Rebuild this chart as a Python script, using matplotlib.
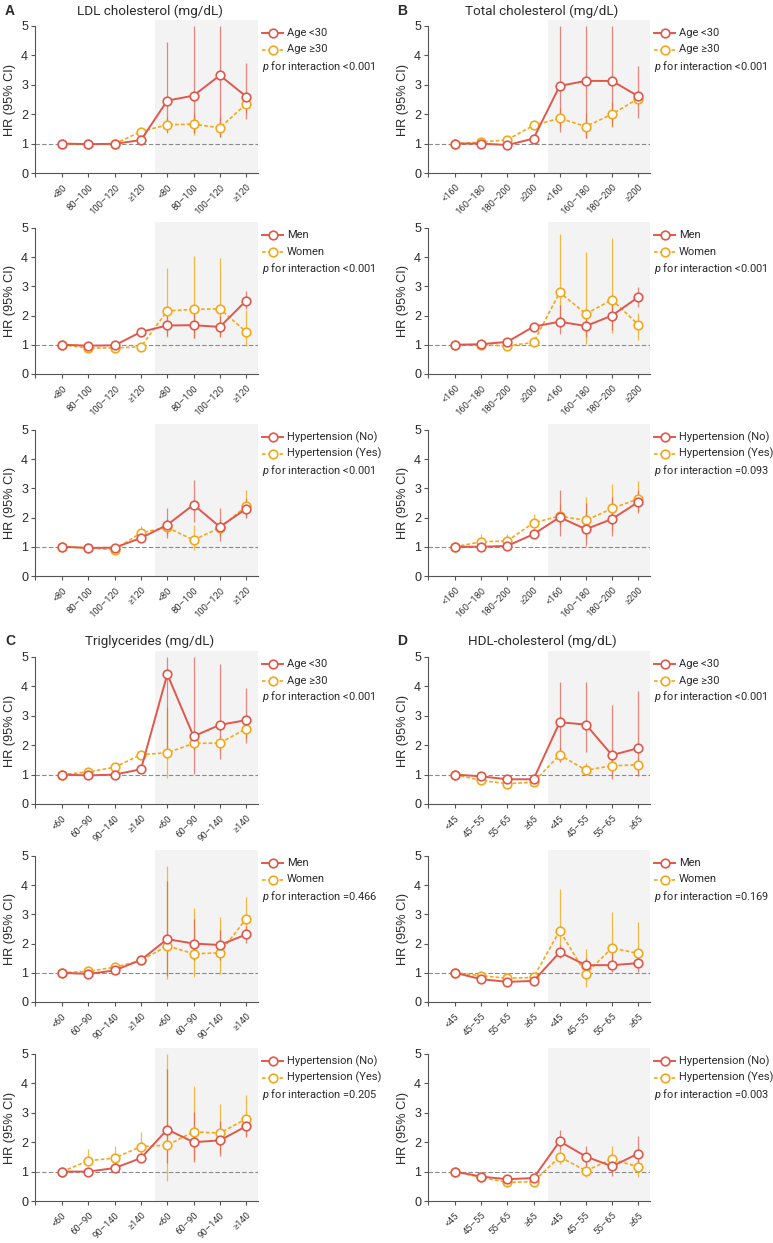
import numpy as np
import matplotlib
matplotlib.use("Agg")
import matplotlib.pyplot as plt

plt.rcParams['font.family'] = ['Roboto', 'DejaVu Sans']
plt.rcParams['mathtext.fontset'] = 'custom'
plt.rcParams['mathtext.rm'] = 'Roboto'
plt.rcParams['mathtext.it'] = 'Roboto:italic'

# ---- category labels --------------------------------------------------
ldl_cats = ['<80', '80–100', '100–120', '≥120'] * 2
tc_cats = ['<160', '160–180', '180–200', '≥200'] * 2
tg_cats = ['<60', '60–90', '90–140', '≥140'] * 2
hdl_cats = ['<45', '45–55', '55–65', '≥65'] * 2

# ---- A: LDL cholesterol -----------------------------------------------
ldl_age_a    = [1.00, 0.98, 0.99, 1.12, 2.46, 2.63, 3.32, 2.60]
ldl_age_a_lo = [1.00, 0.93, 0.93, 1.03, 1.37, 1.35, 1.24, 1.83]
ldl_age_a_hi = [1.00, 1.03, 1.05, 1.22, 4.46, 5.00, 5.00, 3.74]
ldl_age_b    = [1.00, 0.98, 0.99, 1.41, 1.64, 1.66, 1.54, 2.34]
ldl_age_b_lo = [1.00, 0.96, 0.97, 1.33, 1.42, 1.29, 1.24, 2.05]
ldl_age_b_hi = [1.00, 1.00, 1.02, 1.50, 1.90, 2.05, 1.90, 2.65]

ldl_sex_a    = [1.00, 0.97, 0.98, 1.44, 1.66, 1.67, 1.61, 2.51]
ldl_sex_a_lo = [1.00, 0.94, 0.95, 1.38, 1.31, 1.24, 1.25, 2.21]
ldl_sex_a_hi = [1.00, 1.01, 1.02, 1.50, 2.05, 2.10, 2.00, 2.85]
ldl_sex_b    = [1.00, 0.89, 0.89, 0.93, 2.16, 2.21, 2.23, 1.44]
ldl_sex_b_lo = [1.00, 0.85, 0.85, 0.88, 1.28, 1.22, 1.27, 0.96]
ldl_sex_b_hi = [1.00, 0.94, 0.94, 0.99, 3.62, 4.04, 3.96, 2.19]

ldl_htn_a    = [1.00, 0.96, 0.97, 1.30, 1.75, 2.44, 1.68, 2.30]
ldl_htn_a_lo = [1.00, 0.93, 0.93, 1.25, 1.31, 1.85, 1.20, 1.97]
ldl_htn_a_hi = [1.00, 0.99, 1.02, 1.36, 2.34, 3.27, 2.34, 2.65]
ldl_htn_b    = [1.00, 0.96, 0.90, 1.48, 1.66, 1.23, 1.65, 2.39]
ldl_htn_b_lo = [1.00, 0.92, 0.85, 1.30, 1.40, 0.89, 1.35, 2.02]
ldl_htn_b_hi = [1.00, 1.00, 0.96, 1.70, 1.95, 1.74, 1.95, 2.93]

# ---- B: total cholesterol ---------------------------------------------
tc_age_a    = [1.00, 1.00, 0.95, 1.17, 2.96, 3.13, 3.13, 2.61]
tc_age_a_lo = [1.00, 0.95, 0.90, 1.08, 1.39, 1.20, 1.60, 1.87]
tc_age_a_hi = [1.00, 1.05, 1.00, 1.26, 5.00, 5.00, 5.00, 3.62]
tc_age_b    = [1.00, 1.05, 1.13, 1.62, 1.86, 1.58, 2.00, 2.53]
tc_age_b_lo = [1.00, 1.01, 1.08, 1.55, 1.55, 1.20, 1.58, 2.30]
tc_age_b_hi = [1.00, 1.09, 1.18, 1.70, 2.20, 2.05, 2.40, 2.75]

tc_sex_a    = [1.00, 1.02, 1.10, 1.62, 1.79, 1.64, 2.00, 2.63]
tc_sex_a_lo = [1.00, 0.98, 1.05, 1.55, 1.37, 1.28, 1.50, 2.30]
tc_sex_a_hi = [1.00, 1.06, 1.16, 1.70, 2.36, 2.10, 2.64, 2.98]
tc_sex_b    = [1.00, 1.00, 0.96, 1.08, 2.79, 2.06, 2.54, 1.69]
tc_sex_b_lo = [1.00, 0.96, 0.91, 1.00, 1.60, 1.02, 1.39, 1.16]
tc_sex_b_hi = [1.00, 1.04, 1.01, 1.16, 4.79, 4.18, 4.66, 2.07]

tc_htn_a    = [1.00, 1.00, 1.03, 1.43, 2.01, 1.60, 1.95, 2.53]
tc_htn_a_lo = [1.00, 0.96, 0.98, 1.36, 1.37, 1.03, 1.37, 2.14]
tc_htn_a_hi = [1.00, 1.04, 1.08, 1.50, 2.93, 2.50, 2.70, 2.93]
tc_htn_b    = [1.00, 1.17, 1.20, 1.82, 2.05, 1.90, 2.31, 2.64]
tc_htn_b_lo = [1.00, 1.00, 1.00, 1.50, 1.70, 1.23, 1.57, 2.22]
tc_htn_b_hi = [1.00, 1.43, 1.43, 2.11, 2.45, 2.69, 3.16, 3.25]

# ---- C: triglycerides -------------------------------------------------
tg_age_a    = [1.00, 0.97, 1.00, 1.18, 4.41, 2.30, 2.69, 2.85]
tg_age_a_lo = [1.00, 0.92, 0.95, 1.10, 1.60, 1.01, 1.52, 2.09]
tg_age_a_hi = [1.00, 1.02, 1.05, 1.26, 5.00, 5.00, 4.77, 3.94]
tg_age_b    = [1.00, 1.09, 1.25, 1.68, 1.74, 2.06, 2.07, 2.56]
tg_age_b_lo = [1.00, 1.05, 1.20, 1.60, 0.90, 1.85, 1.85, 2.25]
tg_age_b_hi = [1.00, 1.13, 1.30, 1.76, 3.30, 2.30, 2.30, 2.90]

tg_sex_a    = [1.00, 0.96, 1.08, 1.44, 2.15, 2.00, 1.95, 2.31]
tg_sex_a_lo = [1.00, 0.92, 1.03, 1.38, 0.90, 1.44, 1.44, 2.03]
tg_sex_a_hi = [1.00, 1.00, 1.13, 1.50, 4.14, 2.85, 2.47, 2.60]
tg_sex_b    = [1.00, 1.05, 1.19, 1.42, 1.92, 1.65, 1.68, 2.85]
tg_sex_b_lo = [1.00, 0.98, 1.12, 1.33, 0.78, 0.85, 0.95, 2.35]
tg_sex_b_hi = [1.00, 1.12, 1.26, 1.52, 4.66, 3.23, 2.92, 3.58]

tg_htn_a    = [1.00, 1.00, 1.12, 1.46, 2.43, 2.00, 2.06, 2.54]
tg_htn_a_lo = [1.00, 0.96, 1.06, 1.38, 1.29, 1.33, 1.54, 2.18]
tg_htn_a_hi = [1.00, 1.04, 1.18, 1.54, 4.49, 3.03, 2.73, 2.90]
tg_htn_b    = [1.00, 1.37, 1.46, 1.85, 1.90, 2.35, 2.31, 2.79]
tg_htn_b_lo = [1.00, 1.18, 1.18, 1.46, 0.69, 1.40, 1.63, 2.20]
tg_htn_b_hi = [1.00, 1.77, 1.88, 2.34, 5.00, 3.90, 3.31, 3.59]

# ---- D: HDL-cholesterol -----------------------------------------------
hdl_age_a    = [1.00, 0.94, 0.84, 0.84, 2.78, 2.70, 1.66, 1.90]
hdl_age_a_lo = [1.00, 0.88, 0.78, 0.78, 1.44, 1.78, 0.84, 0.95]
hdl_age_a_hi = [1.00, 1.00, 0.90, 0.90, 4.15, 4.14, 3.35, 3.84]
hdl_age_b    = [1.00, 0.80, 0.69, 0.74, 1.67, 1.15, 1.30, 1.33]
hdl_age_b_lo = [1.00, 0.76, 0.65, 0.69, 1.45, 0.98, 1.10, 1.10]
hdl_age_b_hi = [1.00, 0.84, 0.73, 0.79, 1.95, 1.38, 1.52, 1.60]

hdl_sex_a    = [1.00, 0.78, 0.69, 0.72, 1.70, 1.26, 1.26, 1.33]
hdl_sex_a_lo = [1.00, 0.74, 0.65, 0.68, 1.52, 1.05, 1.03, 1.03]
hdl_sex_a_hi = [1.00, 0.82, 0.73, 0.76, 1.95, 1.50, 1.67, 1.70]
hdl_sex_b    = [1.00, 0.90, 0.81, 0.84, 2.44, 0.97, 1.85, 1.66]
hdl_sex_b_lo = [1.00, 0.84, 0.75, 0.78, 1.90, 0.50, 1.44, 1.33]
hdl_sex_b_hi = [1.00, 0.96, 0.87, 0.90, 3.85, 1.82, 3.08, 2.74]

hdl_htn_a    = [1.00, 0.83, 0.74, 0.78, 2.03, 1.51, 1.18, 1.61]
hdl_htn_a_lo = [1.00, 0.79, 0.70, 0.74, 1.75, 1.07, 0.86, 1.29]
hdl_htn_a_hi = [1.00, 0.87, 0.78, 0.82, 2.43, 1.88, 1.60, 2.22]
hdl_htn_b    = [1.00, 0.80, 0.63, 0.66, 1.50, 1.03, 1.42, 1.16]
hdl_htn_b_lo = [1.00, 0.76, 0.59, 0.62, 1.27, 0.80, 1.07, 0.80]
hdl_htn_b_hi = [1.00, 0.84, 0.67, 0.70, 1.75, 1.30, 1.86, 1.41]

age_labels = ['Age <30', 'Age ≥30']
sex_labels = ['Men', 'Women']
htn_labels = ['Hypertension (No)', 'Hypertension (Yes)']

p_ldl = ['<0.001', '<0.001', '<0.001']
p_tc = ['<0.001', '<0.001', '=0.093']
p_tg = ['<0.001', '=0.466', '=0.205']
p_hdl = ['<0.001', '=0.169', '=0.003']

RED = '#E1574B'
ORANGE = '#F4A81A'
TXT = '#2a2a2a'

W, H = 773, 1243
fig = plt.figure(figsize=(W / 100, H / 100), dpi=100)


def rect(x0, x1, y0, y1):
    return [x0 / W, 1 - y1 / H, (x1 - x0) / W, (y1 - y0) / H]


def draw(ax, cats, a, a_lo, a_hi, b, b_lo, b_hi, labels, ptxt, w_px, h_px):
    x = np.arange(len(cats))
    ax.axvspan(3.55, 7.45, color='#F3F3F3', lw=0, zorder=0)
    ax.axhline(1, color='#8A8A8A', lw=0.8, ls=(0, (4, 2)), zorder=1)

    a, b = np.array(a), np.array(b)
    ax.errorbar(x, b, yerr=[b - np.array(b_lo), np.array(b_hi) - b], fmt='none',
                ecolor=ORANGE, elinewidth=0.9, alpha=0.8, zorder=2)
    ax.errorbar(x, a, yerr=[a - np.array(a_lo), np.array(a_hi) - a], fmt='none',
                ecolor=RED, elinewidth=0.9, alpha=0.7, zorder=2)
    styles = [dict(color=RED, lw=1.4, ls='-'),
              dict(color=ORANGE, lw=1.2, ls=(0, (2.2, 1.3)))]
    mk = dict(marker='o', ms=6.2, mfc='white', mew=1.2)
    ax.plot(x, b, **styles[1], **mk, zorder=3)
    ax.plot(x, a, **styles[0], **mk, zorder=4)

    ax.set_xlim(-1.03, 7.45)
    ax.set_ylim(0, 5.2)
    ax.set_yticks([0, 1, 2, 3, 4, 5])
    ax.set_xticks(x)
    ax.set_xticks([-1.03], minor=True)
    ax.set_xticklabels(cats, rotation=45, ha='right', rotation_mode='anchor',
                       fontsize=6.8, color='#3a3a3a')
    for lab in ax.get_yticklabels():
        lab.set_fontfamily('Liberation Sans')
    ax.tick_params(axis='y', labelsize=9, length=3, width=0.8, pad=2,
                   color='#555555', labelcolor=TXT)
    ax.tick_params(axis='x', which='both', length=3, width=0.8, pad=4,
                   color='#555555')
    for s in ['top', 'right']:
        ax.spines[s].set_visible(False)
    for s in ['left', 'bottom']:
        ax.spines[s].set_color('#555555')
        ax.spines[s].set_linewidth(0.8)
    ax.spines['left'].set_bounds(0, 5)
    ax.set_ylabel('HR (95% CI)', fontsize=9.2, family='Liberation Sans',
                  color=TXT)
    ax.yaxis.set_label_coords(-19 / w_px, 2.5 / 5.2)

    # legend drawn beside the axes
    for i, (lab, st) in enumerate(zip(labels, styles)):
        yy = 1 - (13 + 16.5 * i) / h_px
        ax.plot([1 + 4 / w_px, 1 + 25 / w_px], [yy, yy], transform=ax.transAxes,
                clip_on=False, **st)
        ax.plot([1 + 14.5 / w_px], [yy], transform=ax.transAxes, clip_on=False,
                color=st['color'], **mk)
        ax.text(1 + 29 / w_px, yy, lab, transform=ax.transAxes, fontsize=8.0,
                va='center', ha='left', color=TXT)
    ax.text(1 + 4 / w_px, 1 - 46 / h_px, '$p$ for interaction ' + ptxt,
            transform=ax.transAxes, fontsize=7.9, va='center', ha='left',
            color=TXT)


rows = [(20, 173), (222, 374), (424, 576), (651, 804), (850, 1002), (1048, 1201)]
cols = [(35, 258), (428, 650)]

panels = [
    (0, 0, ldl_cats, [ldl_age_a, ldl_age_a_lo, ldl_age_a_hi, ldl_age_b, ldl_age_b_lo, ldl_age_b_hi], age_labels, p_ldl[0]),
    (0, 1, ldl_cats, [ldl_sex_a, ldl_sex_a_lo, ldl_sex_a_hi, ldl_sex_b, ldl_sex_b_lo, ldl_sex_b_hi], sex_labels, p_ldl[1]),
    (0, 2, ldl_cats, [ldl_htn_a, ldl_htn_a_lo, ldl_htn_a_hi, ldl_htn_b, ldl_htn_b_lo, ldl_htn_b_hi], htn_labels, p_ldl[2]),
    (1, 0, tc_cats, [tc_age_a, tc_age_a_lo, tc_age_a_hi, tc_age_b, tc_age_b_lo, tc_age_b_hi], age_labels, p_tc[0]),
    (1, 1, tc_cats, [tc_sex_a, tc_sex_a_lo, tc_sex_a_hi, tc_sex_b, tc_sex_b_lo, tc_sex_b_hi], sex_labels, p_tc[1]),
    (1, 2, tc_cats, [tc_htn_a, tc_htn_a_lo, tc_htn_a_hi, tc_htn_b, tc_htn_b_lo, tc_htn_b_hi], htn_labels, p_tc[2]),
    (0, 3, tg_cats, [tg_age_a, tg_age_a_lo, tg_age_a_hi, tg_age_b, tg_age_b_lo, tg_age_b_hi], age_labels, p_tg[0]),
    (0, 4, tg_cats, [tg_sex_a, tg_sex_a_lo, tg_sex_a_hi, tg_sex_b, tg_sex_b_lo, tg_sex_b_hi], sex_labels, p_tg[1]),
    (0, 5, tg_cats, [tg_htn_a, tg_htn_a_lo, tg_htn_a_hi, tg_htn_b, tg_htn_b_lo, tg_htn_b_hi], htn_labels, p_tg[2]),
    (1, 3, hdl_cats, [hdl_age_a, hdl_age_a_lo, hdl_age_a_hi, hdl_age_b, hdl_age_b_lo, hdl_age_b_hi], age_labels, p_hdl[0]),
    (1, 4, hdl_cats, [hdl_sex_a, hdl_sex_a_lo, hdl_sex_a_hi, hdl_sex_b, hdl_sex_b_lo, hdl_sex_b_hi], sex_labels, p_hdl[1]),
    (1, 5, hdl_cats, [hdl_htn_a, hdl_htn_a_lo, hdl_htn_a_hi, hdl_htn_b, hdl_htn_b_lo, hdl_htn_b_hi], htn_labels, p_hdl[2]),
]

for c, r, cats, series, labels, ptxt in panels:
    (x0, x1), (y0, y1) = cols[c], rows[r]
    ax = fig.add_axes(rect(x0, x1, y0, y1))
    draw(ax, cats, *series, labels, ptxt, x1 - x0, y1 - y0)

# panel letters and titles
titles = [('A', 'LDL cholesterol (mg/dL)', 5, 150, 11),
          ('B', 'Total cholesterol (mg/dL)', 397, 542, 11),
          ('C', 'Triglycerides (mg/dL)', 5, 150, 641),
          ('D', 'HDL-cholesterol (mg/dL)', 397, 542, 641)]
for letter, title, lx, tx, ty in titles:
    fig.text(lx / W, 1 - ty / H, letter, fontsize=10, fontweight='bold',
             family='Liberation Sans', ha='left', va='center', color=TXT)
    fig.text(tx / W, 1 - ty / H, title, fontsize=9.7, ha='center', va='center',
             color=TXT)

fig.savefig('out.png', dpi=100)
